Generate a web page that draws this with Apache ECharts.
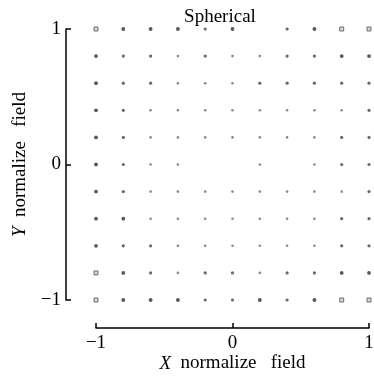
<!DOCTYPE html>
<html>
<head>
<meta charset="utf-8">
<script src="https://cdn.jsdelivr.net/npm/echarts@6/dist/echarts.min.js"></script>
<style>
  html, body { margin: 0; padding: 0; background: #fff; }
  #main { width: 374px; height: 378px; }
</style>
</head>
<body>
<div id="main"></div>
<script>
// grid positions along each axis
var xValues = [-1, -0.8, -0.6, -0.4, -0.2, 0, 0.2, 0.4, 0.6, 0.8, 1];
var yValues = [1, 0.8, 0.6, 0.4, 0.2, 0, -0.2, -0.4, -0.6, -0.8, -1];
// dot strength, row by row from the top (0 = no dot)
var dotLevels = [
  [4, 3, 3, 3, 2, 3, 0, 2, 3, 4, 4],
  [3, 2, 2, 1, 2, 1, 1, 2, 2, 3, 3],
  [3, 2, 2, 1, 1, 1, 2, 2, 2, 2, 2],
  [3, 2, 1, 1, 1, 1, 1, 1, 1, 1, 2],
  [3, 2, 1, 1, 1, 1, 1, 1, 1, 2, 2],
  [3, 2, 1, 1, 0, 0, 1, 0, 1, 2, 2],
  [3, 2, 1, 1, 1, 1, 1, 1, 1, 1, 2],
  [3, 3, 1, 1, 1, 1, 1, 1, 1, 2, 2],
  [3, 2, 2, 1, 1, 1, 1, 1, 1, 2, 2],
  [4, 3, 2, 1, 2, 2, 1, 2, 2, 3, 3],
  [4, 3, 3, 3, 2, 2, 3, 2, 3, 4, 4]
];

var styles = {
  1: { size: 2.6, symbol: 'circle', color: '#6a6a6a', border: '#6a6a6a' },
  2: { size: 3.2, symbol: 'circle', color: '#444', border: '#444' },
  3: { size: 3.8, symbol: 'circle', color: '#2e2e2e', border: '#2e2e2e' },
  4: { size: 4, symbol: 'rect', color: '#cfcfcf', border: '#505050' }
};

var points = [];
for (var r = 0; r < yValues.length; r++) {
  for (var c = 0; c < xValues.length; c++) {
    var lv = dotLevels[r][c];
    if (!lv) continue;
    var s = styles[lv];
    points.push({
      value: [xValues[c], yValues[r]],
      symbol: s.symbol,
      symbolSize: s.size,
      itemStyle: { color: s.color, borderColor: s.border, borderWidth: lv === 4 ? 1 : 0 }
    });
  }
}

var font = '"Liberation Serif", "Times New Roman", serif';
function minus(v) { return String(v).replace('-', '\u2212'); }

var chart = echarts.init(document.getElementById('main'));
chart.setOption({
  backgroundColor: '#fff',
  animation: false,
  title: {
    text: 'Spherical',
    left: 215,
    textAlign: 'center',
    top: 3,
    textStyle: { fontFamily: font, fontSize: 19, fontWeight: 'normal', color: '#000' }
  },
  grid: { left: 96, right: 5, top: 29, bottom: 78, outerBoundsMode: 'none' },
  xAxis: {
    type: 'value',
    min: -1, max: 1, interval: 1,
    offset: 28,
    name: '{i|X}  normalize   field',
    nameLocation: 'middle',
    nameMoveOverlap: false,
    nameGap: 26,
    nameTextStyle: {
      fontFamily: font, fontSize: 19, color: '#000',
      rich: { i: { fontFamily: font, fontSize: 19, fontStyle: 'italic', color: '#000' } }
    },
    axisLine: { show: true, onZero: false, lineStyle: { color: '#000', width: 1.5 } },
    axisTick: { show: true, inside: true, length: 5, lineStyle: { color: '#000', width: 1.5 } },
    axisLabel: { fontFamily: font, fontSize: 19, color: '#000', margin: 6, formatter: minus },
    splitLine: { show: false }
  },
  yAxis: {
    type: 'value',
    min: -1, max: 1, interval: 1,
    offset: 30,
    name: '{i|Y}  normalize   field',
    nameLocation: 'middle',
    nameGap: 31,
    nameTextStyle: {
      fontFamily: font, fontSize: 19, color: '#000',
      rich: { i: { fontFamily: font, fontSize: 19, fontStyle: 'italic', color: '#000' } }
    },
    axisLine: { show: true, onZero: false, lineStyle: { color: '#000', width: 1.5 } },
    axisTick: { show: true, inside: true, length: 5, lineStyle: { color: '#000', width: 1.5 } },
    axisLabel: { fontFamily: font, fontSize: 19, color: '#000', margin: 5, formatter: minus },
    splitLine: { show: false }
  },
  series: [{
    type: 'scatter',
    data: points
  }]
});
</script>
</body>
</html>
